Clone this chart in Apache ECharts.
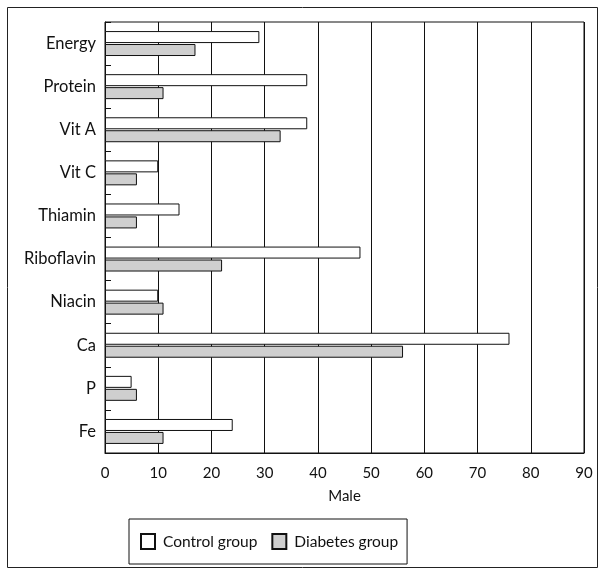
<!DOCTYPE html>
<html><head><meta charset="utf-8">
<script src="https://cdn.jsdelivr.net/npm/echarts@6/dist/echarts.min.js"></script>
<style>html,body{margin:0;padding:0;background:#fff}#c{width:605px;height:574px}</style>
</head><body><div id="c"></div>
<script>
const categories = ['Energy','Protein','Vit A','Vit C','Thiamin','Riboflavin','Niacin','Ca','P','Fe'];
const controlGroup = [29,38,38,10,14,48,10,76,5,24];
const diabetesGroup = [17,11,33,6,6,22,11,56,6,11];
const xTicks = [0,10,20,30,40,50,60,70,80,90];

const font = 'Lato, "Noto Sans", sans-serif';
const chart = echarts.init(document.getElementById('c'));
chart.setOption({
  animation: false,
  textStyle: {fontFamily: font, color: '#111'},
  graphic: [{type:'rect', shape:{x:7.5,y:7.5,width:590,height:560}, style:{fill:'none', stroke:'#222', lineWidth:1}, silent:true}],
  grid: {left:105, right:21, top:22, bottom:121, show:true, borderColor:'#111', borderWidth:1},
  legend: {
    left:129, top:519,
    padding:[14,9,14,11], itemGap:14,
    borderColor:'#111', borderWidth:1,
    itemWidth:14, itemHeight:15, icon:'rect',
    textStyle:{fontFamily:font, fontSize:15.5, color:'#111', padding:[0,0,0,3]},
    data:['Control group','Diabetes group']
  },
  xAxis: {
    type:'value', min:0, max:90, interval:10,
    name:'Male', nameLocation:'middle', nameGap:36,
    nameTextStyle:{fontFamily:font, fontSize:15, color:'#111'},
    axisLine:{show:true, lineStyle:{color:'#111'}},
    axisTick:{show:false},
    axisLabel:{fontFamily:font, fontSize:15, color:'#111', margin:13,
      formatter: v => xTicks.includes(v) ? String(v) : ''},
    splitLine:{show:true, lineStyle:{color:'#111', width:1}}
  },
  yAxis: {
    type:'category', data:categories, inverse:true,
    axisLine:{show:true, lineStyle:{color:'#111'}},
    axisTick:{show:true, inside:true, length:6, lineStyle:{color:'#111'}},
    axisLabel:{fontFamily:font, fontSize:16.5, color:'#111', margin:9}
  },
  series: [
    {name:'Control group', type:'bar', data:controlGroup, barWidth:12, barGap:'8%',
     itemStyle:{color:'#fff', borderColor:'#111', borderWidth:1}},
    {name:'Diabetes group', type:'bar', data:diabetesGroup, barWidth:12,
     itemStyle:{color:'#cfcfcf', borderColor:'#111', borderWidth:1}}
  ]
});
</script></body></html>
